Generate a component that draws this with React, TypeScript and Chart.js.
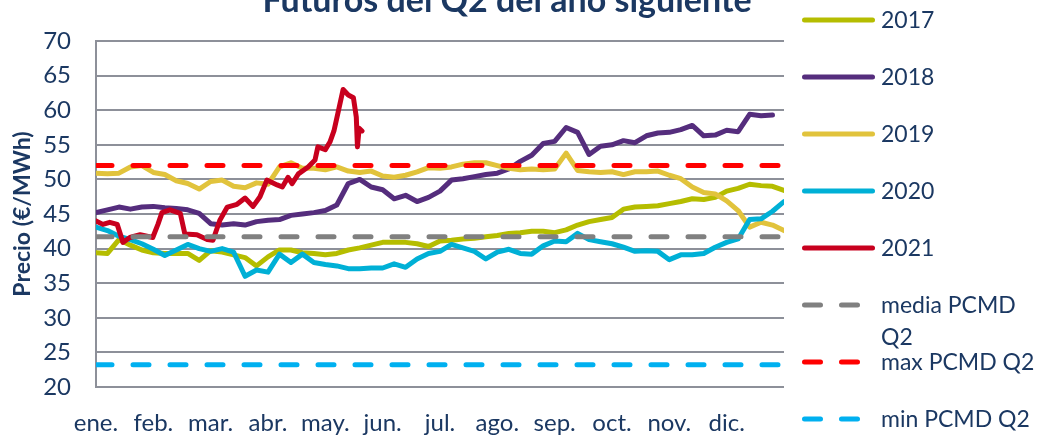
import React, { useEffect, useRef } from 'react';
import { Chart, registerables } from 'chart.js';

Chart.register(...registerables);

const TITLE = 'Futuros del Q2 del año siguiente';
const Y_TITLE = 'Precio (€/MWh)';
const MONTH_LABELS = ['ene.', 'feb.', 'mar.', 'abr.', 'may.', 'jun.', 'jul.', 'ago.', 'sep.', 'oct.', 'nov.', 'dic.'];

// x positions in months since 1 January (shared sampling grid)
const gridMonths = [
  0, 0.2, 0.4, 0.6, 0.8, 1.0, 1.2, 1.4, 1.6, 1.8,
  2.0, 2.2, 2.4, 2.6, 2.8, 3.0, 3.2, 3.4, 3.6, 3.8,
  4.0, 4.2, 4.4, 4.6, 4.8, 5.0, 5.2, 5.4, 5.6, 5.8,
  6.0, 6.2, 6.4, 6.6, 6.8, 7.0, 7.2, 7.4, 7.6, 7.8,
  8.0, 8.2, 8.4, 8.6, 8.8, 9.0, 9.2, 9.4, 9.6, 9.8,
  10.0, 10.2, 10.4, 10.6, 10.8, 11.0, 11.2, 11.4, 11.6, 11.8, 12.0,
];

const prices2017 = [
  39.4, 39.3, 41.3, 40.5, 39.8, 39.4, 39.3, 39.3, 39.3, 38.3,
  39.7, 39.5, 39.1, 38.7, 37.5, 38.8, 39.8, 39.8, 39.4, 39.3,
  39.1, 39.3, 39.8, 40.1, 40.5, 40.9, 40.9, 40.9, 40.7, 40.3,
  41.1, 41.2, 41.4, 41.5, 41.7, 41.9, 42.2, 42.3, 42.5, 42.5,
  42.3, 42.7, 43.4, 43.9, 44.2, 44.5, 45.7, 46.0, 46.1, 46.2,
  46.5, 46.8, 47.2, 47.1, 47.4, 48.3, 48.7, 49.3, 49.1, 49.0, 48.4,
];

const prices2018 = [
  45.2, 45.6, 46.0, 45.7, 46.0, 46.1, 45.9, 45.8, 45.6, 45.1,
  43.6, 43.4, 43.6, 43.4, 43.9, 44.1, 44.2, 44.8, 45.0, 45.2,
  45.5, 46.3, 49.4, 50.0, 48.9, 48.5, 47.2, 47.7, 46.8, 47.4,
  48.3, 49.9, 50.1, 50.4, 50.7, 50.9, 51.5, 52.6, 53.5, 55.2,
  55.5, 57.5, 56.8, 53.6, 54.8, 55.0, 55.6, 55.3, 56.3, 56.7,
  56.8, 57.2, 57.8, 56.3, 56.4, 57.1, 56.9, 59.4, 59.2, 59.3, null,
];

const prices2019 = [
  50.9, 50.8, 50.9, 51.8, 52.0, 51.0, 50.7, 49.8, 49.4, 48.6,
  49.7, 49.9, 49.0, 48.8, 49.5, 49.3, 51.8, 52.4, 51.6, 51.6,
  51.4, 51.8, 51.2, 51.0, 51.2, 50.5, 50.3, 50.6, 51.1, 51.7,
  51.6, 51.8, 52.2, 52.4, 52.4, 52.0, 51.6, 51.4, 51.5, 51.4,
  51.5, 53.8, 51.3, 51.1, 51.0, 51.1, 50.7, 51.1, 51.1, 51.2,
  50.6, 50.1, 48.9, 48.1, 47.9, 46.9, 45.5, 43.1, 43.8, 43.4, 42.6,
];

const prices2020 = [
  43.1, 42.6, 41.8, 41.3, 40.7, 39.9, 39.0, 39.8, 40.6, 40.0,
  39.6, 40.0, 39.5, 36.0, 36.9, 36.6, 39.2, 38.0, 39.2, 38.0,
  37.7, 37.5, 37.1, 37.1, 37.2, 37.2, 37.8, 37.3, 38.5, 39.3,
  39.6, 40.6, 40.1, 39.6, 38.5, 39.5, 39.9, 39.3, 39.2, 40.4,
  41.1, 41.0, 42.2, 41.3, 41.0, 40.7, 40.2, 39.6, 39.7, 39.6,
  38.4, 39.1, 39.1, 39.3, 40.2, 40.9, 41.4, 44.2, 44.3, 45.4, 46.8,
];

// 2021 only runs to mid-May, sampled more densely
const months2021 = [
  0, 0.12, 0.24, 0.37, 0.47, 0.59, 0.77, 0.99, 1.08, 1.15,
  1.29, 1.47, 1.55, 1.76, 1.94, 2.04, 2.16, 2.29, 2.46, 2.6,
  2.74, 2.86, 2.98, 3.16, 3.25, 3.35, 3.42, 3.53, 3.7, 3.82,
  3.87, 4.0, 4.08, 4.15, 4.22, 4.31, 4.4, 4.49, 4.54, 4.56,
  4.59, 4.64,
];
const prices2021 = [
  44.0, 43.5, 43.8, 43.5, 40.9, 41.6, 42.0, 41.6, 43.5, 45.2,
  45.6, 45.1, 42.1, 42.0, 41.3, 41.2, 44.1, 46.0, 46.4, 47.3,
  46.1, 47.5, 49.9, 49.2, 48.9, 50.3, 49.4, 50.8, 51.8, 52.8,
  54.7, 54.3, 55.4, 57.0, 59.6, 63.0, 62.2, 61.8, 59.0, 54.7,
  57.4, 57.0,
];

const refMonths = [0, 12];
const mediaPCMD = [41.7, 41.7];
const maxPCMD = [52.0, 52.0];
const minPCMD = [23.2, 23.2];

const TEXT_COLOR = '#1b3862';
const GRID_COLOR = '#8d9099';
const FONT = 'Lato';

const toPoints = (xs: number[], ys: (number | null)[]) => xs.map((x, i) => ({ x, y: ys[i] }));

const titlePlugin = {
  id: 'cutTitle',
  afterDraw(chart: any) {
    const { ctx } = chart;
    ctx.save();
    ctx.font = `bold 34px ${FONT}`;
    ctx.fillStyle = TEXT_COLOR;
    ctx.textAlign = 'center';
    ctx.textBaseline = 'alphabetic';
    ctx.fillText(TITLE, chart.width / 2 - 12, 12);
    ctx.restore();
  },
};

const sideLegendPlugin = {
  id: 'sideLegend',
  afterDraw(chart: any) {
    const { ctx, chartArea } = chart;
    const x0 = chartArea.right + 18;
    const x1 = chartArea.right + 91;
    const tx = chartArea.right + 97;
    ctx.save();
    ctx.font = `23px ${FONT}`;
    ctx.textBaseline = 'middle';
    ctx.textAlign = 'left';
    chart.data.datasets.forEach((ds: any, i: number) => {
      const y = 20 + i * 57;
      ctx.strokeStyle = ds.borderColor;
      ctx.lineWidth = 5;
      ctx.lineCap = 'round';
      ctx.setLineDash(ds.borderDash || []);
      ctx.beginPath();
      ctx.moveTo(x0 + 2.5, y);
      ctx.lineTo(x1 - 2.5, y);
      ctx.stroke();
      ctx.setLineDash([]);
      ctx.fillStyle = TEXT_COLOR;
      const lines = String(ds.legendText ?? ds.label).split('\n');
      lines.forEach((line: string, k: number) => ctx.fillText(line, tx, y + 1 + k * 32));
    });
    ctx.restore();
  },
};

export default function App() {
  const ref = useRef<HTMLCanvasElement | null>(null);

  useEffect(() => {
    if (!ref.current) return;
    Chart.defaults.font.family = FONT;
    const solid = (label: string, xs: number[], ys: (number | null)[], color: string, order: number) => ({
      label,
      data: toPoints(xs, ys),
      borderColor: color,
      backgroundColor: color,
      borderWidth: 5,
      pointRadius: 0,
      borderJoinStyle: 'round',
      borderCapStyle: 'round',
      tension: 0,
      order,
    });
    const dashed = (label: string, legendText: string, ys: number[], color: string, order: number) => ({
      label,
      legendText,
      data: toPoints(refMonths, ys),
      borderColor: color,
      backgroundColor: color,
      borderWidth: 5,
      borderDash: [16, 21],
      borderCapStyle: 'round',
      pointRadius: 0,
      order,
    });
    const chart = new Chart(ref.current, {
      type: 'line',
      data: {
        datasets: [
          solid('2017', gridMonths, prices2017, '#b5bd00', 8),
          solid('2018', gridMonths, prices2018, '#552d7d', 7),
          solid('2019', gridMonths, prices2019, '#e1c33c', 6),
          solid('2020', gridMonths, prices2020, '#00b0d6', 5),
          solid('2021', months2021, prices2021, '#c8001e', 4),
          dashed('media PCMD Q2', 'media PCMD\nQ2', mediaPCMD, '#808080', 3),
          dashed('max PCMD Q2', 'max PCMD Q2', maxPCMD, '#ff0000', 2),
          dashed('min PCMD Q2', 'min PCMD Q2', minPCMD, '#00b0f0', 1),
        ] as any,
      },
      options: {
        animation: false,
        responsive: false,
        devicePixelRatio: 1,
        layout: { padding: { top: 41, right: 254, bottom: 0, left: 0 } },
        plugins: {
          legend: { display: false },
          tooltip: { enabled: false },
          title: { display: false },
        },
        scales: {
          x: {
            type: 'linear',
            min: 0,
            max: 12,
            ticks: {
              stepSize: 1,
              autoSkip: false,
              maxRotation: 0,
              color: TEXT_COLOR,
              font: { size: 24, family: FONT },
              padding: 22,
              callback: (v: any) => MONTH_LABELS[Number(v)] ?? '',
            },
            grid: { display: false, drawTicks: false },
            border: { display: false },
            afterFit: (scale: any) => {
              scale.height = 50;
            },
          },
          y: {
            min: 20,
            max: 70,
            ticks: {
              stepSize: 5,
              color: TEXT_COLOR,
              font: { size: 24, family: FONT },
              padding: 25,
            },
            grid: { color: GRID_COLOR, lineWidth: 2, drawTicks: false },
            border: { display: true, color: GRID_COLOR, width: 2 },
            title: {
              display: true,
              text: Y_TITLE,
              color: TEXT_COLOR,
              font: { size: 23, weight: 'bold', family: FONT },
              padding: { top: 9, bottom: 0 },
            },
            afterFit: (scale: any) => {
              scale.width = 96;
            },
          },
        },
      } as any,
      plugins: [titlePlugin, sideLegendPlugin],
    });
    return () => chart.destroy();
  }, []);

  return (
    <div style={{ position: 'fixed', left: 0, top: 0, width: 1038, height: 437, background: '#ffffff' }}>
      <canvas ref={ref} width={1038} height={437} style={{ display: 'block', width: 1038, height: 437 }} />
    </div>
  );
}
